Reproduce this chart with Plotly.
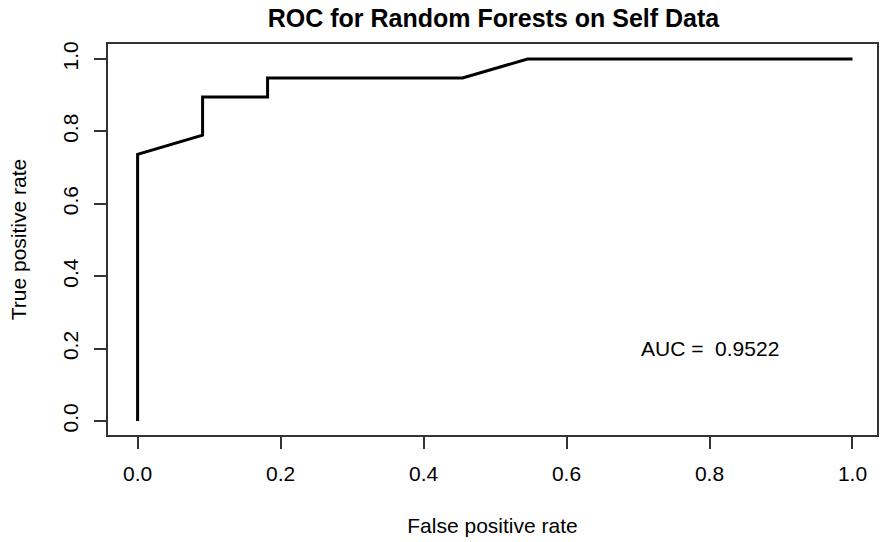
import plotly.graph_objects as go

# ROC curve points (11 negatives, 19 positives)
fpr = [0.0, 0.0, 1/11, 1/11, 2/11, 2/11, 5/11, 6/11, 1.0]
tpr = [0.0, 14/19, 15/19, 17/19, 17/19, 18/19, 18/19, 1.0, 1.0]
auc_value = 0.9522
tick_vals = [0.0, 0.2, 0.4, 0.6, 0.8, 1.0]
tick_text = ["0.0", "0.2", "0.4", "0.6", "0.8", "1.0"]

FONT = "Liberation Sans, Arial, sans-serif"

fig = go.Figure()
fig.add_trace(go.Scatter(x=fpr, y=tpr, mode="lines",
                         line=dict(color="black", width=3),
                         showlegend=False, hoverinfo="skip"))

fig.add_annotation(x=0.8, y=0.2, xref="x", yref="y",
                   text="AUC =\u00a0 " + f"{auc_value:.4f}",
                   showarrow=False, font=dict(family=FONT, size=21, color="black"),
                   xanchor="center", yanchor="middle")

fig.update_layout(
    width=880, height=542,
    margin=dict(l=108, r=1, t=44, b=107),
    paper_bgcolor="white", plot_bgcolor="white",
    font=dict(family=FONT, size=21, color="black"),
    title=dict(text="<b>ROC for Random Forests on Self Data</b>",
               x=(108 + 879) / 2 / 880, xanchor="center",
               y=1 - 18 / 542, yanchor="middle",
               font=dict(family=FONT, size=25, color="black")),
    xaxis=dict(range=[-0.0414, 1.0343], tickvals=tick_vals, ticktext=tick_text,
               showgrid=False, zeroline=False, showline=True, mirror=True,
               linecolor="#333", linewidth=1.5, ticks="outside", ticklen=12,
               tickcolor="#333", tickwidth=1.5, ticklabelstandoff=7,
               tickfont=dict(family=FONT, size=21),
               title=dict(text="False positive rate", standoff=34,
                          font=dict(family=FONT, size=21))),
    yaxis=dict(range=[-0.0387, 1.0414], tickvals=tick_vals, ticktext=tick_text,
               tickangle=-90,
               showgrid=False, zeroline=False, showline=True, mirror=True,
               linecolor="#333", linewidth=1.5, ticks="outside", ticklen=12,
               tickcolor="#333", tickwidth=1.5, ticklabelstandoff=8,
               tickfont=dict(family=FONT, size=21),
               title=dict(text="True positive rate", standoff=26,
                          font=dict(family=FONT, size=21))),
)

fig.write_html("out.html")
